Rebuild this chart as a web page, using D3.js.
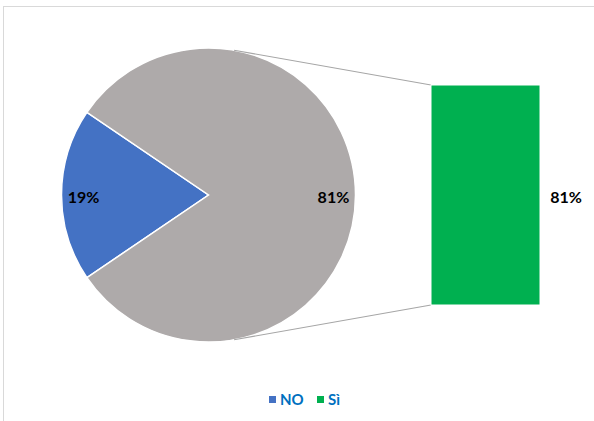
<!DOCTYPE html>
<html>
<head>
<meta charset="utf-8">
<script src="https://cdn.jsdelivr.net/npm/d3@7/dist/d3.min.js"></script>
<style>
  html, body { margin: 0; padding: 0; background: #fff; }
  svg { display: block; }
</style>
</head>
<body>
<svg id="chart" width="594" height="421"></svg>
<script>
// Answers shown in the pie, and the split of the secondary slice shown in the bar
const categories = ["NO", "Sì"];
const values = [19, 81];
const barCategories = ["Sì"];
const barValues = [81];

const colors = { "NO": "#4472c4", "Sì": "#00b050", other: "#aeaaaa" };
const fontFamily = "Lato, 'Open Sans', sans-serif";

const svg = d3.select("#chart");

// chart frame (only the top and left edges fall inside the view)
svg.append("rect")
  .attr("x", 3.5).attr("y", 6.5)
  .attr("width", 700).attr("height", 500)
  .attr("fill", "#fff")
  .attr("stroke", "#d9d9d9").attr("stroke-width", 1);

const cx = 208.5, cy = 195, r = 147;

// main pie: the first category on its own, the rest grouped into the bar
const pieData = [
  { key: categories[0], value: values[0], color: colors[categories[0]] },
  { key: "other", value: d3.sum(barValues), color: colors.other }
];
const share = pieData[0].value / d3.sum(pieData, d => d.value) * 2 * Math.PI;
const start = -Math.PI / 2 - share / 2;
const pie = d3.pie().sort(null).value(d => d.value)
  .startAngle(start).endAngle(start + 2 * Math.PI);
const arcs = pie(pieData);
const arc = d3.arc().innerRadius(0).outerRadius(r);
const labelArc = d3.arc().innerRadius(r * 0.85).outerRadius(r * 0.85);

// bar for the grouped slice
const barX = 431, barW = 109;
const y = d3.scaleLinear().domain([0, d3.sum(barValues)]).range([305, 85]);
const stack = d3.stack().keys(barCategories)([Object.fromEntries(barCategories.map((k, i) => [k, barValues[i]]))]);

// connector lines, tangent from the bar's corners to the pie
function tangentPoint(px, py, side) {
  const dx = px - cx, dy = py - cy;
  const d = Math.hypot(dx, dy);
  const a = Math.atan2(dy, dx) + side * Math.acos(r / d);
  return [cx + r * Math.cos(a), cy + r * Math.sin(a)];
}
const topCorner = [barX, y(d3.sum(barValues))];
const bottomCorner = [barX, y(0)];
const t1 = tangentPoint(topCorner[0], topCorner[1], -1);
const t2 = tangentPoint(bottomCorner[0], bottomCorner[1], 1);

const g = svg.append("g").attr("transform", `translate(${cx},${cy})`);
g.selectAll("path").data(arcs).join("path")
  .attr("d", arc)
  .attr("fill", d => d.data.color)
  .attr("stroke", "#fff").attr("stroke-width", 1.5);

svg.selectAll("line.connector").data([[t1, topCorner], [t2, bottomCorner]]).join("line")
  .attr("class", "connector")
  .attr("x1", d => d[0][0]).attr("y1", d => d[0][1])
  .attr("x2", d => d[1][0]).attr("y2", d => d[1][1])
  .attr("stroke", "#a6a6a6").attr("stroke-width", 1.2);

svg.selectAll("rect.bar").data(stack).join("rect")
  .attr("class", "bar")
  .attr("x", barX).attr("width", barW)
  .attr("y", d => y(d[0][1]))
  .attr("height", d => y(d[0][0]) - y(d[0][1]))
  .attr("fill", d => colors[d.key])
  .attr("stroke", "#fff").attr("stroke-width", 1);

// value labels
g.selectAll("text").data(arcs).join("text")
  .attr("x", d => labelArc.centroid(d)[0])
  .attr("y", d => labelArc.centroid(d)[1] + 2)
  .attr("dy", "0.36em")
  .attr("text-anchor", "middle")
  .attr("font-family", fontFamily).attr("font-weight", "bold")
  .attr("font-size", 16).attr("fill", "#000")
  .text(d => d.data.value + "%");

svg.selectAll("text.barlabel").data(stack).join("text")
  .attr("class", "barlabel")
  .attr("x", barX + barW + 26)
  .attr("y", d => (y(d[0][0]) + y(d[0][1])) / 2 + 2)
  .attr("dy", "0.36em")
  .attr("text-anchor", "middle")
  .attr("font-family", fontFamily).attr("font-weight", "bold")
  .attr("font-size", 16).attr("fill", "#000")
  .text(d => d[0][1] - d[0][0] + "%");

// legend
const legendItems = [
  { key: categories[0], x: 269 },
  { key: categories[1], x: 317 }
];
const lg = svg.append("g");
lg.selectAll("rect").data(legendItems).join("rect")
  .attr("x", d => d.x).attr("y", 396)
  .attr("width", 7).attr("height", 7)
  .attr("fill", d => colors[d.key]);
lg.selectAll("text").data(legendItems).join("text")
  .attr("x", d => d.x + 11).attr("y", 399.5)
  .attr("dy", "0.36em")
  .attr("font-family", fontFamily).attr("font-weight", "bold")
  .attr("font-size", 15).attr("fill", "#0070c0")
  .text(d => d.key);
</script>
</body>
</html>
